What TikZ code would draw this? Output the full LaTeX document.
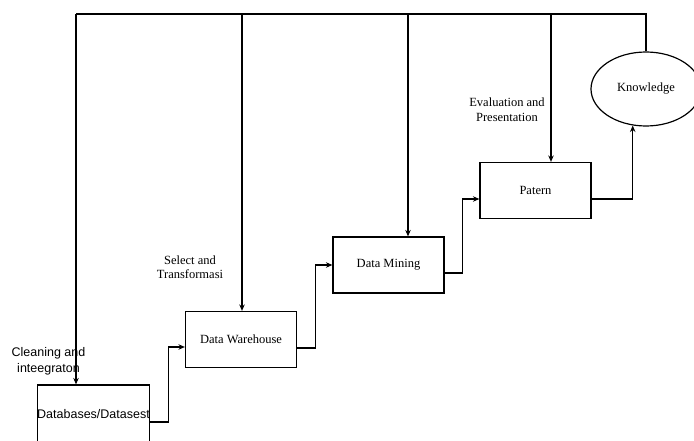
\documentclass[tikz,border=0pt]{standalone}
\usepackage{fontspec}
\setmainfont{Liberation Serif}
\setsansfont{Liberation Sans}
\usetikzlibrary{arrows.meta,shapes.geometric}

\begin{document}
\begin{tikzpicture}[x=1pt,y=-1pt,
  line width=1.2pt,
  stagebox/.style={draw, rectangle, minimum width=111pt, minimum height=56pt,
    font=\fontsize{12.5}{15}\selectfont, inner sep=0pt},
  goal/.style={draw, ellipse, minimum width=110pt, minimum height=74pt,
    font=\fontsize{12.5}{15}\selectfont, inner sep=0pt},
  note/.style={align=center, font=\fontsize{12.5}{15}\selectfont, inner sep=0pt},
  arr/.style={-{Stealth[length=6.5pt,width=5.5pt]}}
]
\useasboundingbox (0,0) rectangle (694,441);

% process stages
\node[stagebox, font=\sffamily\fontsize{12.5}{15}\selectfont,
      minimum height=58pt] (db) at (93.5,414) {Databases/Datasest};
\node[stagebox] (dw) at (241,339.5) {Data Warehouse};
\node[stagebox] (dm) at (388.5,265) {Data Mining};
\node[stagebox] (pt) at (535.5,190.5) {Patern};
\node[goal] (kn) at (646,89) {Knowledge};

% step labels
\node[note, font=\sffamily\fontsize{12.5}{16}\selectfont] (l1) at (48.5,361) {Cleaning and\\inteegraton};
\node[note, font=\fontsize{12.5}{14}\selectfont] (l2) at (190,267) {Select and\\Transformasi};
\node[note] (l3) at (507,110) {Evaluation and\\Presentation};

% staircase connectors
\draw[arr] ([yshift=-8pt]db.east) -- ++(18,0) |- ([yshift=-7.5pt]dw.west);
\draw[arr] ([yshift=-8.5pt]dw.east) -- ++(18,0) |- (dm.west);
\draw[arr] ([yshift=-8pt]dm.east) -- ++(18,0) |- ([yshift=-8.5pt]pt.west);
\draw[arr] ([yshift=-8.5pt]pt.east) -| (kn.250);

% feedback bus along the top
\coordinate (t1) at (76,14);
\coordinate (t2) at (242,14);
\coordinate (t3) at (408,14);
\coordinate (t4) at (551,14);
\coordinate (t5) at (kn.north |- t1);
\draw (kn.north) -- (t5) -- (t1);
\draw[arr] (t1) -- (t1 |- db.north);
\draw[arr] (t2) -- (t2 |- dw.north);
\draw[arr] (t3) -- (t3 |- dm.north);
\draw[arr] (t4) -- (t4 |- pt.north);
\end{tikzpicture}
\end{document}
